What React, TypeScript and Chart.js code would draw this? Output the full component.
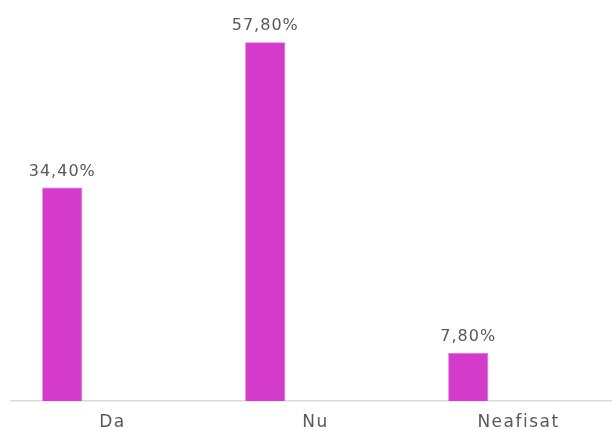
import React, { useEffect, useRef } from "react";
import { Chart, registerables } from "chart.js";

Chart.register(...registerables);

const categories = ["Da", "Nu", "Neafisat"];
const values = [34.4, 57.8, 7.8];
const valueLabels = ["34,40%", "57,80%", "7,80%"];
const emptySeries = [null, null, null];

const FONT = "'DejaVu Sans', sans-serif";

const spacingPlugin = {
  id: "tickSpacing",
  beforeUpdate(chart: any) {
    chart.ctx.letterSpacing = "1.5px";
  },
  beforeDraw(chart: any) {
    chart.ctx.letterSpacing = "1.5px";
  },
};

const labelPlugin = {
  id: "barLabels",
  afterDatasetsDraw(chart: any) {
    const ctx = chart.ctx;
    const meta = chart.getDatasetMeta(0);
    ctx.save();
    ctx.letterSpacing = "1px";
    ctx.font = `16px ${FONT}`;
    ctx.fillStyle = "#595959";
    ctx.textAlign = "center";
    ctx.textBaseline = "middle";
    meta.data.forEach((bar: any, i: number) => {
      ctx.fillText(valueLabels[i], bar.x, bar.y - 16);
    });
    ctx.restore();
  },
};

export default function App() {
  const ref = useRef<HTMLCanvasElement>(null);
  useEffect(() => {
    if (!ref.current) return;
    const chart = new Chart(ref.current, {
      type: "bar",
      data: {
        labels: categories,
        datasets: [
          {
            data: values,
            backgroundColor: "#d43bcb",
            borderColor: "#e070da",
            borderWidth: 0.8,
            categoryPercentage: 0.99,
            barPercentage: 0.4,
          },
          {
            data: emptySeries as any,
            backgroundColor: "transparent",
            categoryPercentage: 0.99,
            barPercentage: 0.4,
          },
        ],
      },
      options: {
        animation: false,
        responsive: false,
        maintainAspectRatio: false,
        layout: { padding: { left: 11, right: 1, top: 0, bottom: 0 } },
        plugins: { legend: { display: false }, tooltip: { enabled: false } },
        scales: {
          x: {
            grid: { display: false, drawTicks: false },
            border: { display: true, color: "#d9d9d9", width: 1.5 },
            ticks: {
              padding: 15,
              color: "#595959",
              font: { family: FONT, size: 17, lineHeight: 0.82 },
            },
          },
          y: {
            display: false,
            min: 0,
            max: 64.6,
          },
        },
      },
      plugins: [spacingPlugin, labelPlugin],
    });
    return () => chart.destroy();
  }, []);
  return (
    <div style={{ position: "fixed", left: 0, top: 0, width: 612, height: 430, overflow: "hidden", background: "#fff" }}>
      <canvas ref={ref} width={621} height={445} style={{ width: 621, height: 445, display: "block" }} />
    </div>
  );
}
